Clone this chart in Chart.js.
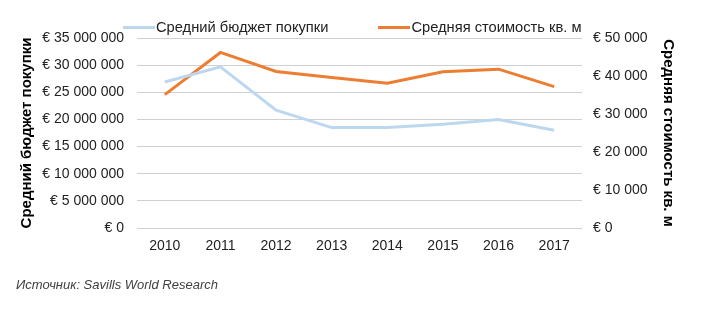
<!DOCTYPE html>
<html>
<head>
<meta charset="utf-8">
<script src="https://cdn.jsdelivr.net/npm/chart.js@4"></script>
<style>
  html, body { margin: 0; padding: 0; background: #fff; }
  #wrap { position: relative; width: 723px; height: 318px; font-family: "Liberation Sans", Arial, sans-serif; }
  #legend { position: absolute; left: 123px; top: 18px; display: flex; gap: 50px; font-size: 14.7px; color: #222; line-height: 18px; white-space: nowrap; }
  .item { display: flex; align-items: center; }
  .swatch { width: 32px; height: 3px; margin-right: 1px; }
  #source { position: absolute; left: 16px; top: 277px; font-size: 13px; font-style: italic; color: #404040; white-space: nowrap; }
</style>
</head>
<body>
<div id="wrap">
  <canvas id="c" width="723" height="318"></canvas>
  <div id="legend"></div>
  <div id="source">Источник: Savills World Research</div>
</div>
<script>
const years = ['2010', '2011', '2012', '2013', '2014', '2015', '2016', '2017'];
const avgBudget = [26900000, 29700000, 21700000, 18500000, 18500000, 19100000, 20000000, 18000000];
const avgPriceSqm = [35100, 46200, 41200, 39600, 38100, 41100, 41800, 37200];
const budgetLabel = 'Средний бюджет покупки';
const priceLabel = 'Средняя стоимость кв. м';
const budgetColor = '#BDD7EE';
const priceColor = '#ED7D31';

function euro(v) {
  return '€ ' + String(Math.round(v)).replace(/\B(?=(\d{3})+(?!\d))/g, ' ');
}

const FONT = '"Liberation Sans", Arial, sans-serif';
Chart.defaults.font.family = FONT;
Chart.defaults.font.size = 14;
Chart.defaults.color = '#222';

const chart = new Chart(document.getElementById('c'), {
  type: 'line',
  data: {
    labels: years,
    datasets: [
      { label: budgetLabel, data: avgBudget, yAxisID: 'y', borderColor: budgetColor, backgroundColor: budgetColor, borderWidth: 3, pointRadius: 0, tension: 0 },
      { label: priceLabel, data: avgPriceSqm, yAxisID: 'y1', borderColor: priceColor, backgroundColor: priceColor, borderWidth: 3, pointRadius: 0, tension: 0 }
    ]
  },
  options: {
    responsive: false,
    animation: false,
    layout: { padding: { top: 38, bottom: 60, left: 0, right: 0 } },
    plugins: { legend: { display: false }, tooltip: { enabled: false } },
    scales: {
      x: {
        offset: true,
        grid: { display: false, drawTicks: false },
        border: { display: false },
        ticks: { padding: 10, font: { size: 14 } },
        afterFit: s => { s.height = 30; }
      },
      y: {
        position: 'left',
        min: 0, max: 35000000,
        ticks: { stepSize: 5000000, padding: 13, callback: v => euro(v) },
        grid: { color: '#D0D0D0', drawTicks: false, lineWidth: 1 },
        border: { display: false },
        title: { display: true, text: budgetLabel, font: { size: 15, weight: 'bold' }, color: '#000', padding: { top: 18, bottom: 0 } },
        afterFit: s => { s.width = 137; }
      },
      y1: {
        position: 'right',
        min: 0, max: 50000,
        ticks: { stepSize: 10000, padding: 11, callback: v => euro(v) },
        grid: { display: false, drawTicks: false },
        border: { display: false },
        title: { display: true, text: priceLabel, font: { size: 15, weight: 'bold' }, color: '#000', padding: { top: 46, bottom: 0 } },
        afterFit: s => { s.width = 141; }
      }
    }
  }
});

const legend = document.getElementById('legend');
chart.data.datasets.forEach(ds => {
  const item = document.createElement('div');
  item.className = 'item';
  const sw = document.createElement('span');
  sw.className = 'swatch';
  sw.style.background = ds.borderColor;
  const tx = document.createElement('span');
  tx.textContent = ds.label;
  item.appendChild(sw);
  item.appendChild(tx);
  legend.appendChild(item);
});
</script>
</body>
</html>
